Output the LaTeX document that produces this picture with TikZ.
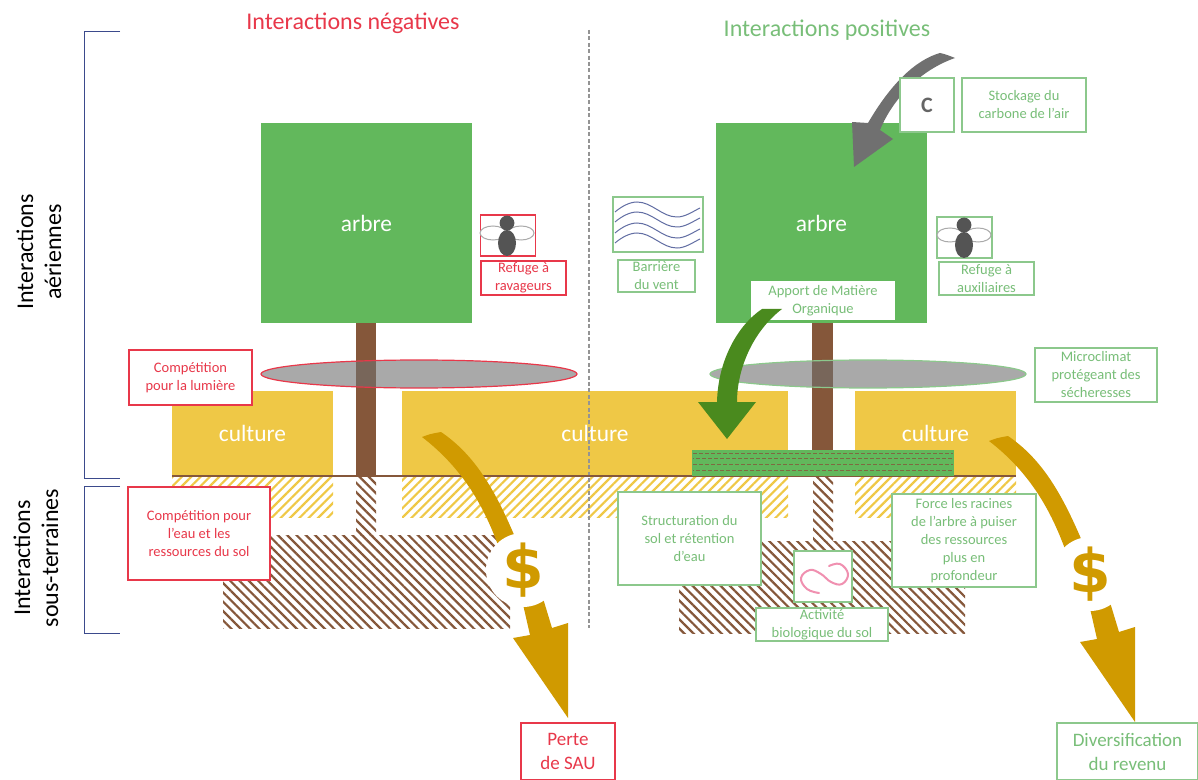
\documentclass[tikz,border=0pt]{standalone}
\usepackage{fontspec}
\setmainfont{Carlito}
\newfontfamily\dollarfont{DejaVu Sans}
\usetikzlibrary{shapes.geometric,patterns.meta}
\definecolor{arbrevert}{HTML}{62B85C}
\definecolor{tronc}{HTML}{85573A}
\definecolor{blecolor}{HTML}{EFC846}
\definecolor{orcolor}{HTML}{D09A00}
\definecolor{rouge}{HTML}{E8384A}
\definecolor{vertclair}{HTML}{8CC88C}
\definecolor{verttexte}{HTML}{78BE78}
\definecolor{vertfonce}{HTML}{4A8A1E}
\definecolor{gris}{HTML}{707070}
\definecolor{crochet}{HTML}{3B4A8C}
\definecolor{versrose}{HTML}{F090B0}
\tikzset{
    redbox/.style={draw=rouge,line width=0.75pt,fill=white,text=rouge,align=center,inner sep=0pt,font=\fontsize{7.25}{8.8}\selectfont},
    greenbox/.style={draw=vertclair,line width=0.75pt,fill=white,text=verttexte,align=center,inner sep=0pt,font=\fontsize{7.25}{9}\selectfont},
    bloc/.style={inner sep=0pt,text=white,font=\fontsize{11.7}{13}\selectfont},
    hachure/.style={pattern={Lines[angle=45,distance=3.3pt,line width=1.1pt]},pattern color=blecolor},
    racine/.style={pattern={Lines[angle=-45,distance=3.3pt,line width=1.1pt]},pattern color=tronc},
    canopee/.style={ellipse,inner sep=0pt,minimum width=158pt,minimum height=14pt,fill=gris,fill opacity=0.6}
}
\begin{document}
\begin{tikzpicture}[x=0.5pt,y=-0.5pt]
    \useasboundingbox(0,0)rectangle(1198,780);
    % titres
    \node[text=rouge,font=\fontsize{12}{14}\selectfont](titreneg)at(353,23){Interactions négatives};
    \node[text=verttexte,font=\fontsize{12}{14}\selectfont](titrepos)at(827,30){Interactions positives};
    \node[rotate=90,align=center,font=\fontsize{12}{14}\selectfont](aeriennes)at(39,252){Interactions\\aériennes};
    \node[rotate=90,align=center,font=\fontsize{12}{14}\selectfont](souterraines)at(36,558){Interactions\\sous-terraines};
    \draw[crochet,line width=0.5pt](120,32)--(84,32)--(84,478)--(120,478);
    \draw[crochet,line width=0.5pt](120,486)--(84,486)--(84,633)--(120,633);

    % cultures
    \node[bloc,fill=blecolor,minimum width=80.5pt,minimum height=42.5pt](culturea)at(252.5,433.5){culture};
    \node[bloc,fill=blecolor,minimum width=193pt,minimum height=42.5pt](cultureb)at(595,433.5){culture};
    \node[bloc,fill=blecolor,minimum width=80.5pt,minimum height=42.5pt](culturec)at(935.5,433.5){culture};
    \fill[hachure](172,477)rectangle(333,517);
    \fill[hachure](402,477)rectangle(788,517);
    \fill[hachure](855,477)rectangle(1016,517);
    \draw[gris!75,line width=0.6pt,dash pattern=on 2pt off 1.2pt](589,30)--(589,628);

    % racines
    \fill[racine](356,477)rectangle(376,535);
    \fill[racine](223,535)rectangle(510,628);
    \fill[racine](813,477)rectangle(833,541);
    \fill[racine](679,541)rectangle(965,633);

    % arbres
    \fill[tronc](356,323)rectangle(376,476);
    \fill[tronc](812,323)rectangle(833,450);
    \node[bloc,fill=arbrevert,minimum width=105.5pt,minimum height=100pt](arbrea)at(366.5,223){arbre};
    \node[bloc,fill=arbrevert,minimum width=105.5pt,minimum height=100pt](arbreb)at(821.5,223){arbre};
    \draw[tronc,line width=1pt](172,476)--(1016,476);

    % matiere organique
    \fill[arbrevert](692,450)rectangle(954,476);
    \foreach \y/\o in {453/0,458/1.5,464/0,470/1.5}
        \draw[tronc!80!arbrevert,line width=0.5pt,dash pattern=on 2pt off 1pt,dash phase=\o pt](693,\y)--(953,\y);

    % ombres
    \node[canopee,draw=rouge,draw opacity=1,line width=0.6pt](ombrea)at(419,374){};
    \node[canopee,draw=vertclair,draw opacity=1,line width=0.6pt](ombreb)at(868,374){};

    % fleche du carbone
    \fill[gris](955,58)..controls(950,56)and(945,54)..(940,53)..controls(915,60)and(890,85)..(868,123)--(852,122)--(854,167)--(893,139)--(880,130)..controls(890,105)and(915,72)..(955,58)--cycle;

    % boites
    \node[redbox,minimum width=61.5pt,minimum height=27.5pt](lumiere)at(190.5,377.5){Compétition\\pour la lumière};
    \node[redbox,minimum width=71pt,minimum height=46.5pt](eau)at(199,533.5){Compétition pour\\l’eau et les\\ressources du sol};
    \node[redbox,minimum width=27.5pt,minimum height=20.5pt](insecterouge)at(508,235.5){};
    \node[redbox,minimum width=42.5pt,minimum height=17pt](ravageurs)at(523.5,278){Refuge à\\ravageurs};
    \node[greenbox,minimum width=45pt,minimum height=27.5pt](ventbox)at(658,224.5){};
    \node[greenbox,minimum width=38.5pt,minimum height=16pt](vent)at(656.5,276){Barrière\\du vent};
    \node[greenbox,minimum width=27.5pt,minimum height=20.5pt](insectevert)at(964.5,237.5){};
    \node[greenbox,minimum width=47.5pt,minimum height=16.5pt](auxiliaires)at(986.5,278.5){Refuge à\\auxiliaires};
    \node[greenbox,minimum width=27pt,minimum height=27pt,text=gris!90!black,font=\fontsize{11}{13}\bfseries](carbone)at(927,105){C};
    \node[greenbox,minimum width=62pt,minimum height=27pt](stockage)at(1024,105){Stockage du\\carbone de l’air};
    \node[greenbox,draw=none,minimum width=72pt,minimum height=19.5pt](apport)at(823,300.5){Apport de Matière\\Organique};
    \node[greenbox,minimum width=61pt,minimum height=27pt](microclimat)at(1096,375){Microclimat\\protégeant des\\sécheresses};
    \node[greenbox,minimum width=71.5pt,minimum height=46.5pt](structuration)at(689.5,538.5){Structuration du\\sol et rétention\\d’eau};
    \node[greenbox,minimum width=72pt,minimum height=46.5pt](force)at(964,540.5){Force les racines\\de l’arbre à puiser\\des ressources\\plus en\\profondeur};
    \node[greenbox,minimum width=29pt,minimum height=25.5pt](vers)at(823,576.5){};
    \node[greenbox,minimum width=66pt,minimum height=16.5pt](activite)at(822,624.5){Activité\\biologique du sol};
    \node[redbox,minimum width=47pt,minimum height=28.5pt,font=\fontsize{9.5}{12}\selectfont](perte)at(568,751.5){Perte\\de SAU};
    \node[greenbox,minimum width=70.5pt,minimum height=28.5pt,font=\fontsize{9.5}{12}\selectfont](revenu)at(1127.5,751.5){Diversification\\du revenu};

    % fleche de la matiere organique
    \fill[vertfonce](782,309)--(762,309)..controls(738,325)and(718,360)..(717,402)--(698,402)--(727,439)--(756,402)--(737,402)..controls(737,370)and(752,332)..(782,309)--cycle;

    % insectes
    \foreach \dx/\dy in {0/0,457/2}{
        \begin{scope}[shift={(\dx,\dy)}]
            \draw[gris!60,fill=white,line width=0.5pt](493,233)ellipse[x radius=6.5pt,y radius=3.5pt];
            \draw[gris!60,fill=white,line width=0.5pt](521,233)ellipse[x radius=6.5pt,y radius=3.5pt];
            \fill[gris!75!black](507,223)circle[radius=3.7pt];
            \fill[gris!75!black](507,243)ellipse[x radius=4.5pt,y radius=6.5pt];
        \end{scope}
    }

    % vent
    \foreach \y in {0,10,21,31}
        \draw[crochet!80,line width=0.5pt](615,212+\y)..controls(622,206+\y)and(630,202+\y)..(637,202+\y)..controls(652,202+\y)and(662,217+\y)..(677,217+\y)..controls(685,217+\y)and(692,212+\y)..(700,208+\y);

    % ver
    \draw[versrose,line width=1pt,line cap=round]plot[smooth,tension=0.7]coordinates{(819,593)(807,589)(801,578)(810,570)(821,574)(831,582)(842,584)(848,574)(840,564)(829,566)};

    % fleches de revenu
    \foreach \dx/\dy/\nom in {0/0/dollara,567/4/dollarb}{
        \begin{scope}[shift={(\dx,\dy)}]
            \fill[orcolor](422,437)..controls(430,434)..(441,432)..controls(475,455)and(495,490)..(515,537)--(498,545)..controls(485,510)and(465,470)..(422,437)--cycle;
            \fill[orcolor](522,600)--(542,595)--(552,628)--(568,623)--(568,718)--(513,638)--(530,635)--cycle;
            \node[circle,fill=white,inner sep=0pt,minimum size=37pt,text=orcolor,font=\dollarfont\fontsize{30}{30}\bfseries\selectfont](\nom)at(523,570){\$};
        \end{scope}
    }
\end{tikzpicture}
\end{document}
